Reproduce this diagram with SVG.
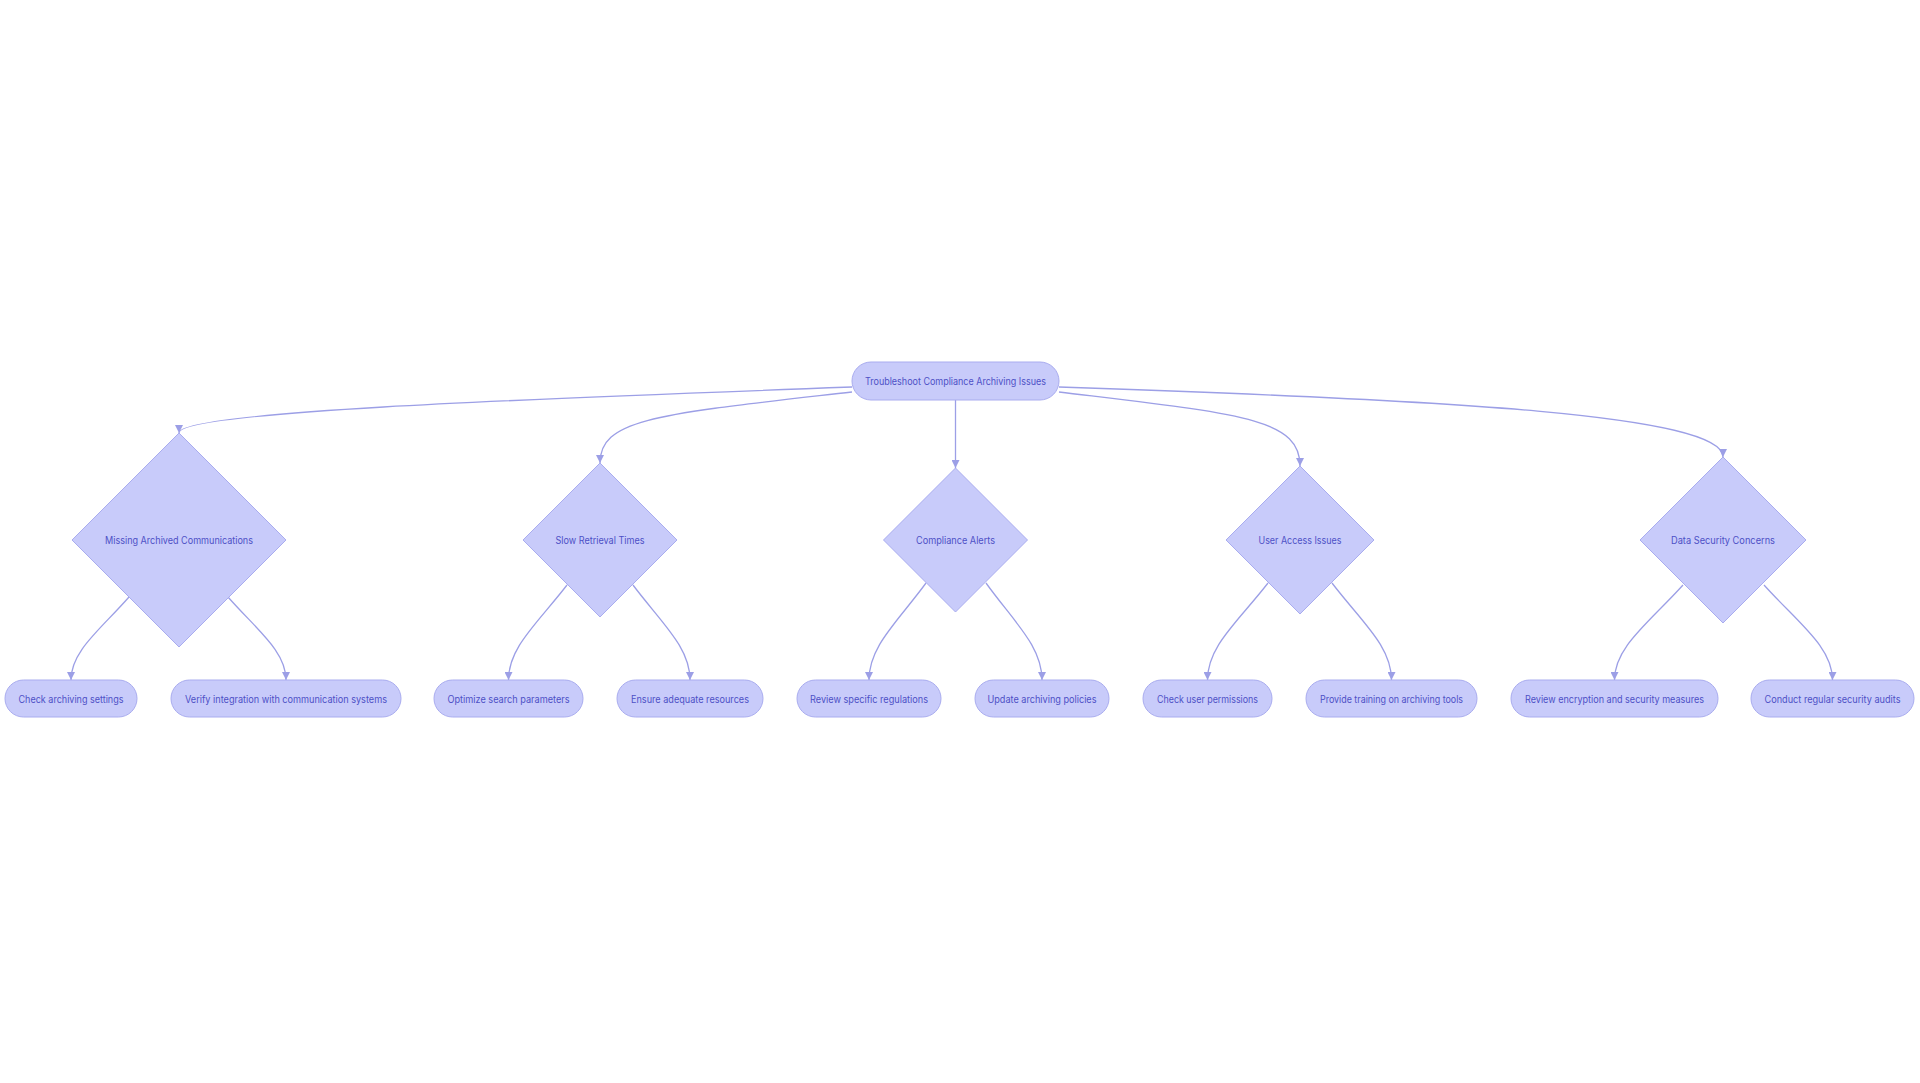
<svg xmlns="http://www.w3.org/2000/svg" width="1920" height="1083" viewBox="0 0 1920 1083">
<style>
.bg{fill:#ffffff}
.node{fill:#c8cbfa;stroke:#a9acef;stroke-width:1}
.lbl{font-family:Inter,"Noto Sans","Liberation Sans",sans-serif;font-size:10px;fill:#4d50c6;text-anchor:middle;dominant-baseline:central}
.edge{fill:none;stroke:#9c9fe6;stroke-width:1.3;marker-end:url(#arrow)}
</style>
<defs>
<marker id="arrow" viewBox="0 0 10 10" refX="10" refY="5" markerUnits="userSpaceOnUse" markerWidth="8" markerHeight="8" orient="auto">
<path d="M0,0 L10,5 L0,10 z" fill="#9c9fe6"/>
</marker>
</defs>
<rect class="bg" x="0" y="0" width="1920" height="1083"/>
<g id="connectors">
<path class="edge" d="M852,387 C500,400 179,412 179,433"/>
<path class="edge" d="M852,392 C660,414 600,418 600,463"/>
<path class="edge" d="M955.5,400 L955.5,468"/>
<path class="edge" d="M1059,392 C1240,414 1300,418 1300,466"/>
<path class="edge" d="M1059,387 C1450,400 1723,415 1723,457"/>
<path class="edge" d="M129,597 C100,630 71,651 71,680"/>
<path class="edge" d="M228,597 C257,630 286,651 286,680"/>
<path class="edge" d="M567,585 C537.75,623 508.5,647 508.5,680"/>
<path class="edge" d="M633,585 C661.5,623 690,647 690,680"/>
<path class="edge" d="M926,583 C897.5,622 869,646 869,680"/>
<path class="edge" d="M986,583 C1014,622 1042,646 1042,680"/>
<path class="edge" d="M1268,583 C1237.75,622 1207.5,646 1207.5,680"/>
<path class="edge" d="M1332,583 C1361.75,622 1391.5,646 1391.5,680"/>
<path class="edge" d="M1683,585 C1648.75,623 1614.5,647 1614.5,680"/>
<path class="edge" d="M1764,585 C1798.25,623 1832.5,647 1832.5,680"/>
</g>
<g id="root">
<rect class="node" x="852" y="362" width="207" height="38" rx="19"/>
<text class="lbl" x="955.5" y="381" textLength="181" lengthAdjust="spacingAndGlyphs">Troubleshoot Compliance Archiving Issues</text>
</g>
<g id="d1">
<polygon class="node" points="179,433 286,540 179,647 72,540"/>
<text class="lbl" x="179" y="540" textLength="148" lengthAdjust="spacingAndGlyphs">Missing Archived Communications</text>
</g>
<g id="d2">
<polygon class="node" points="600,463 677,540 600,617 523,540"/>
<text class="lbl" x="600" y="540" textLength="89" lengthAdjust="spacingAndGlyphs">Slow Retrieval Times</text>
</g>
<g id="d3">
<polygon class="node" points="955.5,468 1027.5,540 955.5,612 883.5,540"/>
<text class="lbl" x="955.5" y="540" textLength="79" lengthAdjust="spacingAndGlyphs">Compliance Alerts</text>
</g>
<g id="d4">
<polygon class="node" points="1300,466 1374,540 1300,614 1226,540"/>
<text class="lbl" x="1300" y="540" textLength="83" lengthAdjust="spacingAndGlyphs">User Access Issues</text>
</g>
<g id="d5">
<polygon class="node" points="1723,457 1806,540 1723,623 1640,540"/>
<text class="lbl" x="1723" y="540" textLength="104" lengthAdjust="spacingAndGlyphs">Data Security Concerns</text>
</g>
<g id="l1">
<rect class="node" x="5" y="680" width="132" height="37" rx="18.5"/>
<text class="lbl" x="71" y="698.5" textLength="105" lengthAdjust="spacingAndGlyphs">Check archiving settings</text>
</g>
<g id="l2">
<rect class="node" x="171" y="680" width="230" height="37" rx="18.5"/>
<text class="lbl" x="286" y="698.5" textLength="202" lengthAdjust="spacingAndGlyphs">Verify integration with communication systems</text>
</g>
<g id="l3">
<rect class="node" x="434" y="680" width="149" height="37" rx="18.5"/>
<text class="lbl" x="508.5" y="698.5" textLength="122" lengthAdjust="spacingAndGlyphs">Optimize search parameters</text>
</g>
<g id="l4">
<rect class="node" x="617" y="680" width="146" height="37" rx="18.5"/>
<text class="lbl" x="690" y="698.5" textLength="118" lengthAdjust="spacingAndGlyphs">Ensure adequate resources</text>
</g>
<g id="l5">
<rect class="node" x="797" y="680" width="144" height="37" rx="18.5"/>
<text class="lbl" x="869" y="698.5" textLength="118" lengthAdjust="spacingAndGlyphs">Review specific regulations</text>
</g>
<g id="l6">
<rect class="node" x="975" y="680" width="134" height="37" rx="18.5"/>
<text class="lbl" x="1042" y="698.5" textLength="109" lengthAdjust="spacingAndGlyphs">Update archiving policies</text>
</g>
<g id="l7">
<rect class="node" x="1143" y="680" width="129" height="37" rx="18.5"/>
<text class="lbl" x="1207.5" y="698.5" textLength="101" lengthAdjust="spacingAndGlyphs">Check user permissions</text>
</g>
<g id="l8">
<rect class="node" x="1306" y="680" width="171" height="37" rx="18.5"/>
<text class="lbl" x="1391.5" y="698.5" textLength="143" lengthAdjust="spacingAndGlyphs">Provide training on archiving tools</text>
</g>
<g id="l9">
<rect class="node" x="1511" y="680" width="207" height="37" rx="18.5"/>
<text class="lbl" x="1614.5" y="698.5" textLength="179" lengthAdjust="spacingAndGlyphs">Review encryption and security measures</text>
</g>
<g id="l10">
<rect class="node" x="1751" y="680" width="163" height="37" rx="18.5"/>
<text class="lbl" x="1832.5" y="698.5" textLength="136" lengthAdjust="spacingAndGlyphs">Conduct regular security audits</text>
</g>
</svg>
